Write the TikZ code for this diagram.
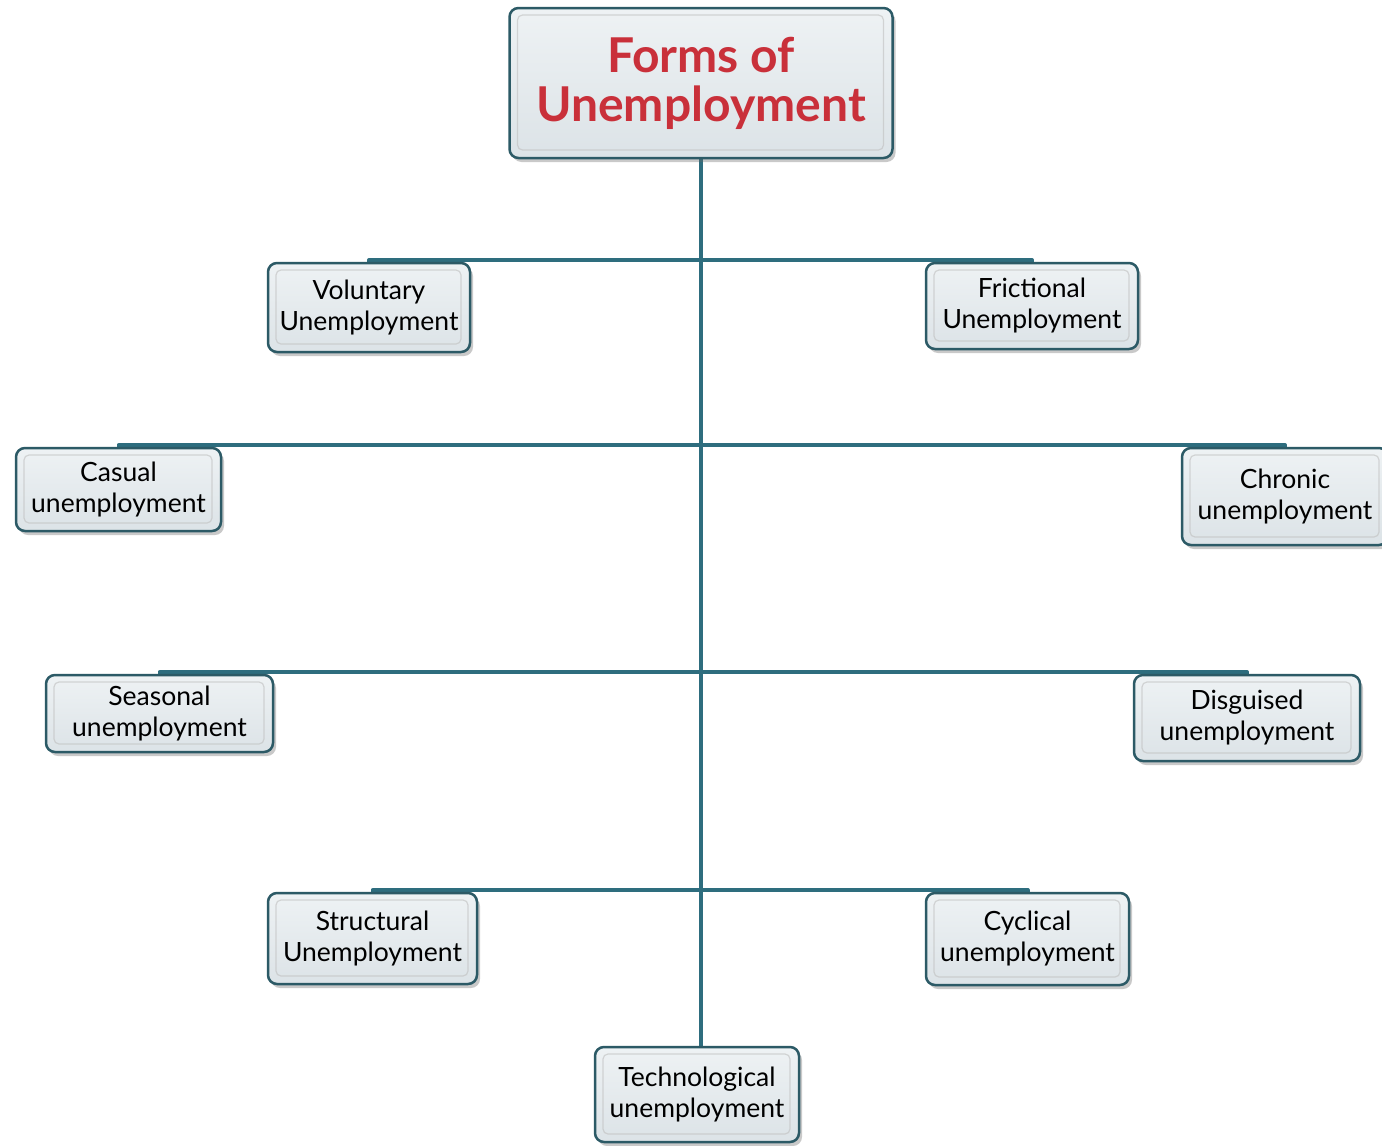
\documentclass[tikz,border=0pt]{standalone}
\usepackage{fontspec}
\setmainfont{Lato}
\usetikzlibrary{shadows,backgrounds}
\definecolor{linec}{HTML}{2E6D7E}
\definecolor{boxborder}{HTML}{2C5A66}
\definecolor{boxtop}{HTML}{EEF2F4}
\definecolor{boxbot}{HTML}{DCE3E7}
\definecolor{titlered}{HTML}{C9303A}
\tikzset{
  ubox/.style={draw=boxborder, line width=2.5pt, rounded corners=9pt,
    top color=boxtop, bottom color=boxbot, align=center, inner sep=0pt,
    drop shadow={shadow xshift=3pt, shadow yshift=-4pt, opacity=0.35, fill=black!60},
    font=\fontsize{26.5}{31}\selectfont, text=black,
    path picture={
      \draw[line width=1.2pt, draw=black!25, opacity=0.6, rounded corners=5pt]
        ([shift={(8pt,-7pt)}]path picture bounding box.north west)
        rectangle ([shift={(-9pt,8pt)}]path picture bounding box.south east);
    }},
  conn/.style={draw=linec, line width=4pt, line join=round},
}
\begin{document}
\begin{tikzpicture}[x=1pt,y=-1pt]
\useasboundingbox (0,0) rectangle (1382,1146);
\node[ubox, minimum width=383pt, minimum height=150pt, font=\bfseries\fontsize{48}{49}\selectfont, text=titlered] (title) at (701,83) {Forms of\\Unemployment};
\node[ubox, minimum width=202pt, minimum height=89pt] (vol) at (369,307.5) {Voluntary\\Unemployment};
\node[ubox, minimum width=212pt, minimum height=86pt] (fri) at (1032,306) {Frictional\\Unemployment};
\node[ubox, minimum width=205pt, minimum height=83pt] (cas) at (118.5,489.5) {Casual\\unemployment};
\node[ubox, minimum width=206pt, minimum height=97pt] (chr) at (1285,496.5) {Chronic\\unemployment};
\node[ubox, minimum width=227pt, minimum height=77pt] (sea) at (159.5,713.5) {Seasonal\\unemployment};
\node[ubox, minimum width=226pt, minimum height=86pt] (dis) at (1247,718) {Disguised\\unemployment};
\node[ubox, minimum width=209pt, minimum height=91pt] (str) at (372.5,938.5) {Structural\\Unemployment};
\node[ubox, minimum width=203pt, minimum height=92pt] (cyc) at (1027.5,939) {Cyclical\\unemployment};
\node[ubox, minimum width=204pt, minimum height=95pt] (tec) at (697,1094.5) {Technological\\unemployment};
\coordinate (j1) at (701,260);
\coordinate (j2) at (701,445);
\coordinate (j3) at (701,672);
\coordinate (j4) at (701,890);
\begin{scope}[on background layer]
\fill[white] (0,0) rectangle (1382,1146);
\draw[conn] (title.south) -- (title.south |- tec.north);
\draw[conn] (j1) -| (vol.north);
\draw[conn] (j1) -| (fri.north);
\draw[conn] (j2) -| (cas.north);
\draw[conn] (j2) -| (chr.north);
\draw[conn] (j3) -| (sea.north);
\draw[conn] (j3) -| (dis.north);
\draw[conn] (j4) -| (str.north);
\draw[conn] (j4) -| (cyc.north);
\end{scope}
\end{tikzpicture}
\end{document}
